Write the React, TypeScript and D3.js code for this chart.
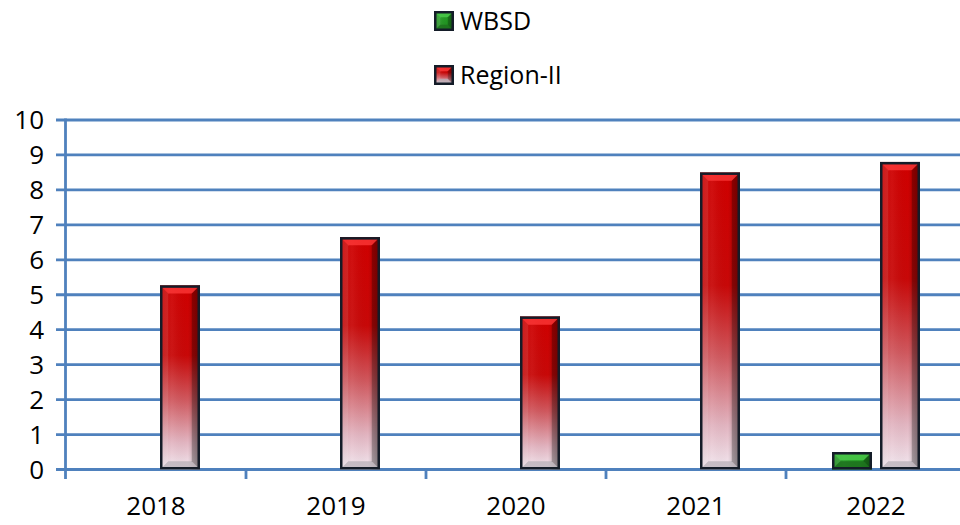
import React from 'react'
import * as d3 from 'd3'

const years = ['2018', '2019', '2020', '2021', '2022']
const seriesNames = ['WBSD', 'Region-II']
const wbsd = [0, 0, 0, 0, 0.5]
const region2 = [5.27, 6.65, 4.38, 8.5, 8.8]
const yTicks = [0, 1, 2, 3, 4, 5, 6, 7, 8, 9, 10]

const W = 960
const H = 525
const FONT = '"Open Sans", "Liberation Sans", sans-serif'
const GRID = '#4F81BD'

// bevelled bar like the office "3d" bar style
const BevelBar = ({ x, y, w, h, kind }: { x: number; y: number; w: number; h: number; kind: string }) => {
  if (h <= 0) return null
  const b = Math.min(7, h / 2.5, w / 4)
  const s = 2.5
  const ix = x + s / 2
  const iy = y + s / 2
  const iw = w - s
  const ih = h - s
  const top = kind === 'red' ? '#ff3b3b' : '#4fcf4f'
  const bot = kind === 'red' ? '#b8b0b8' : '#1e6e1e'
  return (
    <g>
      <rect x={x} y={y} width={w} height={h} fill={`url(#${kind}V)`} />
      <rect x={x} y={y} width={w} height={h} fill="url(#shadeH)" />
      {/* top bevel */}
      <polygon points={`${ix},${iy} ${ix + iw},${iy} ${ix + iw - b},${iy + b} ${ix + b},${iy + b}`} fill={top} opacity={0.75} />
      {/* bottom bevel */}
      <polygon points={`${ix},${iy + ih} ${ix + iw},${iy + ih} ${ix + iw - b},${iy + ih - b} ${ix + b},${iy + ih - b}`} fill={bot} opacity={0.75} />
      {/* side bevels */}
      <polygon points={`${ix},${iy} ${ix + b},${iy + b} ${ix + b},${iy + ih - b} ${ix},${iy + ih}`} fill="#ffffff" opacity={0.1} />
      <polygon points={`${ix + iw},${iy} ${ix + iw - b},${iy + b} ${ix + iw - b},${iy + ih - b} ${ix + iw},${iy + ih}`} fill="#000000" opacity={0.25} />
      <rect x={ix} y={iy} width={iw} height={ih} fill="none" stroke="#141c28" strokeWidth={s} />
    </g>
  )
}

export default function App() {
  const margin = { left: 66, right: -6, top: 120, bottom: 56 }
  const x0 = d3.scaleBand<string>().domain(years).range([margin.left, W - margin.right]).paddingInner(0).paddingOuter(0)
  const x1 = d3
    .scaleBand<string>()
    .domain(seriesNames)
    .range([0, x0.bandwidth()])
    .paddingInner(8 / 48)
    .paddingOuter(46 / 48)
  const y = d3.scaleLinear().domain([0, 10]).range([469.5, 120])

  const values: Record<string, number[]> = { WBSD: wbsd, 'Region-II': region2 }

  return (
    <svg width={W} height={H} style={{ position: 'absolute', left: 0, top: 0, background: '#fff' }}>
      <defs>
        <linearGradient id="redV" x1="0" y1="0" x2="0" y2="1">
          <stop offset="0" stopColor="#cf0000" />
          <stop offset="0.38" stopColor="#c80808" />
          <stop offset="0.62" stopColor="#d0585e" />
          <stop offset="0.85" stopColor="#e2b4c0" />
          <stop offset="1" stopColor="#f2e8f0" />
        </linearGradient>
        <linearGradient id="greenV" x1="0" y1="0" x2="0" y2="1">
          <stop offset="0" stopColor="#26a326" />
          <stop offset="1" stopColor="#1f8a1f" />
        </linearGradient>
        <linearGradient id="shadeH" x1="0" y1="0" x2="1" y2="0">
          <stop offset="0" stopColor="#000" stopOpacity={0.05} />
          <stop offset="0.3" stopColor="#fff" stopOpacity={0.06} />
          <stop offset="0.7" stopColor="#000" stopOpacity={0} />
          <stop offset="1" stopColor="#000" stopOpacity={0.3} />
        </linearGradient>
      </defs>

      {/* legend */}
      {seriesNames.map((s, i) => (
        <g key={s} transform={`translate(434, ${11 + i * 54})`}>
          <BevelBar x={0} y={0} w={20} h={20} kind={i === 0 ? 'green' : 'red'} />
          <text x={26} y={19} fontFamily={FONT} fontSize={25} fill="#000">
            {s}
          </text>
        </g>
      ))}

      {/* grid */}
      {yTicks.map((t) => (
        <g key={t}>
          <line x1={56} x2={W} y1={y(t)} y2={y(t)} stroke={GRID} strokeWidth={2.8} />
          <text x={44} y={y(t)} dy="0.36em" textAnchor="end" fontFamily={FONT} fontSize={26} fill="#000">
            {t}
          </text>
        </g>
      ))}
      <line x1={65.5} x2={65.5} y1={y(10) - 1.4} y2={479} stroke={GRID} strokeWidth={2.8} />
      {years.slice(1).map((yr) => (
        <line key={yr} x1={x0(yr)!} x2={x0(yr)!} y1={y(0)} y2={479} stroke={GRID} strokeWidth={2.8} />
      ))}

      {/* bars */}
      {years.map((yr, i) => (
        <g key={yr} transform={`translate(${x0(yr)},0)`}>
          {seriesNames.map((s) => {
            const v = values[s][i]
            return (
              <BevelBar
                key={s}
                x={x1(s)!}
                y={y(v)}
                w={x1.bandwidth()}
                h={y(0) - y(v)}
                kind={s === 'WBSD' ? 'green' : 'red'}
              />
            )
          })}
          <text x={x0.bandwidth() / 2} y={515} textAnchor="middle" fontFamily={FONT} fontSize={26} fill="#000">
            {yr}
          </text>
        </g>
      ))}
    </svg>
  )
}
